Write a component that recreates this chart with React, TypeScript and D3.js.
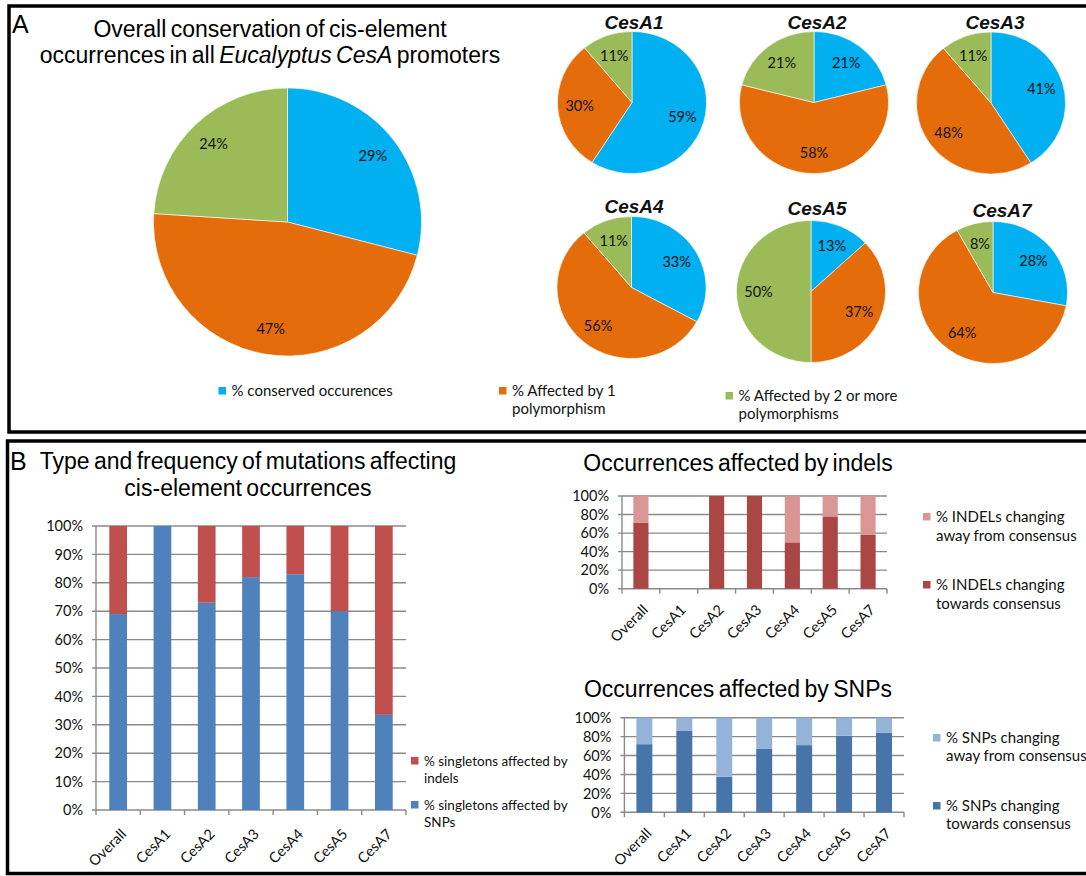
import React from "react";
import * as d3 from "d3";

const W = 1086;
const H = 876;

// ---- Panel A: conservation pies ----
const pieSeries = [
  "% conserved occurences",
  "% Affected by 1 polymorphism",
  "% Affected by 2 or more polymorphisms",
];
const pieColors = ["#00B0F0", "#E46C0A", "#9BBB59"];
const overallShares = [29, 47, 24];
const geneNames = ["CesA1", "CesA2", "CesA3", "CesA4", "CesA5", "CesA7"];
const conservedShares = [59, 21, 41, 33, 13, 28];
const onePolyShares = [30, 58, 48, 56, 37, 64];
const multiPolyShares = [11, 21, 11, 11, 50, 8];

// ---- Panel B: mutation type bars ----
const barCategories = ["Overall", "CesA1", "CesA2", "CesA3", "CesA4", "CesA5", "CesA7"];
const snpSingletons = [69, 100, 73, 82, 83, 70, 33.5];
const indelSingletons = [31, 0, 27, 18, 17, 30, 66.5];
const indelTowards = [71, 0, 100, 100, 50, 78, 58];
const indelAway = [29, 0, 0, 0, 50, 22, 42];
const snpTowards = [72, 86, 37.5, 67, 71, 81, 84];
const snpAway = [28, 14, 62.5, 33, 29, 19, 16];
const ticksBy10 = [0, 10, 20, 30, 40, 50, 60, 70, 80, 90, 100];
const ticksBy20 = [0, 20, 40, 60, 80, 100];

const TITLE_FONT = "'Liberation Sans', Arial, sans-serif";
const BODY_FONT = "Lato, 'Open Sans', sans-serif";
const GRID = "#8a8a8a";

type PieProps = {
  cx: number;
  cy: number;
  r: number;
  sx?: number;
  values: number[];
  labelR: number;
  fontSize: number;
};

function Pie({ cx, cy, r, sx = 1, values, labelR, fontSize }: PieProps) {
  const arcs = d3.pie<number>().sort(null).value((d) => d)(values);
  const arcGen = d3.arc<d3.PieArcDatum<number>>().innerRadius(0).outerRadius(r);
  const labelArc = d3.arc<d3.PieArcDatum<number>>().innerRadius(labelR).outerRadius(labelR);
  return (
    <g transform={`translate(${cx},${cy})`}>
      <g transform={`scale(${sx},1)`}>
        {arcs.map((a, i) => (
          <path
            key={i}
            d={arcGen(a) || ""}
            fill={pieColors[i]}
            stroke="#ffffff"
            strokeWidth={0.6}
            vectorEffect="non-scaling-stroke"
          />
        ))}
      </g>
      {arcs.map((a, i) => {
        if (a.data <= 0) return null;
        const [lx, ly] = labelArc.centroid(a);
        return (
          <text
            key={i}
            x={lx * sx}
            y={ly}
            dy="0.36em"
            textAnchor="middle"
            fontFamily={BODY_FONT}
            fontSize={fontSize}
            fill="#111"
          >
            {a.data}%
          </text>
        );
      })}
    </g>
  );
}

type BarsProps = {
  x0: number;
  x1: number;
  yTop: number;
  yBottom: number;
  ticks: number[];
  lower: number[];
  upper: number[];
  colors: [string, string];
  fontSize: number;
  labelDx: number;
  labelDy: number;
};

function StackedBars(p: BarsProps) {
  const x = d3
    .scaleBand<string>()
    .domain(barCategories)
    .range([p.x0, p.x1])
    .paddingInner(0.6)
    .paddingOuter(0.3);
  const y = d3.scaleLinear().domain([0, 100]).range([p.yBottom, p.yTop]);
  const rows = barCategories.map((c, i) => ({ cat: c, lower: p.lower[i], upper: p.upper[i] }));
  const series = d3.stack<{ cat: string; lower: number; upper: number }>().keys(["lower", "upper"])(rows as any);
  const step = (p.x1 - p.x0) / barCategories.length;
  const bounds = d3.range(barCategories.length + 1).map((k) => p.x0 + k * step);
  return (
    <g>
      {p.ticks.map((t) => (
        <g key={t}>
          <line x1={p.x0 - 4} x2={p.x1} y1={y(t)} y2={y(t)} stroke={GRID} strokeWidth={1.4} />
          <text
            x={p.x0 - 13}
            y={y(t)}
            dy="0.36em"
            textAnchor="end"
            fontFamily={BODY_FONT}
            fontSize={p.fontSize}
            fill="#111"
          >
            {t}%
          </text>
        </g>
      ))}
      <line x1={p.x0} x2={p.x0} y1={p.yTop} y2={p.yBottom} stroke={GRID} strokeWidth={1.4} />
      {bounds.map((bx, k) => (
        <line key={k} x1={bx} x2={bx} y1={p.yBottom} y2={p.yBottom + 5} stroke={GRID} strokeWidth={1.4} />
      ))}
      {series.map((s, si) =>
        s.map((d, i) => {
          const h = y(d[0]) - y(d[1]);
          if (h <= 0) return null;
          return (
            <rect
              key={`${si}-${i}`}
              x={x(barCategories[i])}
              y={y(d[1])}
              width={x.bandwidth()}
              height={h}
              fill={p.colors[si]}
            />
          );
        })
      )}
      {barCategories.map((c) => {
        const cx = (x(c) as number) + x.bandwidth() / 2;
        return (
          <text
            key={c}
            transform={`translate(${cx + p.labelDx},${p.yBottom + p.labelDy}) rotate(-45)`}
            textAnchor="end"
            fontFamily={BODY_FONT}
            fontSize={p.fontSize}
            fill="#111"
          >
            {c}
          </text>
        );
      })}
    </g>
  );
}

function LegendItem({
  x,
  y,
  color,
  lines,
  fontSize,
  lineGap,
}: {
  x: number;
  y: number;
  color: string;
  lines: string[];
  fontSize: number;
  lineGap: number;
}) {
  return (
    <g>
      <rect x={x} y={y - 9} width={7.5} height={7.5} fill={color} />
      {lines.map((ln, i) => (
        <text key={i} x={x + 13} y={y + i * lineGap} fontFamily={BODY_FONT} fontSize={fontSize} fill="#111">
          {ln}
        </text>
      ))}
    </g>
  );
}

export default function App() {
  const smallPies = [
    { cx: 632, cy: 102.5, tx: 634, ty: 29 },
    { cx: 814, cy: 102.5, tx: 817, ty: 29 },
    { cx: 991, cy: 103, tx: 995, ty: 29 },
    { cx: 631.5, cy: 287.5, tx: 634, ty: 213 },
    { cx: 811, cy: 291.5, tx: 817, ty: 215 },
    { cx: 993, cy: 292.5, tx: 1002, ty: 217 },
  ];
  return (
    <svg
      width={W}
      height={H}
      viewBox={`0 0 ${W} ${H}`}
      style={{ position: "absolute", left: 0, top: 0, background: "#fff" }}
    >
      <rect x={0} y={0} width={W} height={H} fill="#fff" />

      {/* panel frames */}
      <rect x={9} y={6} width={1100} height={426} fill="none" stroke="#000" strokeWidth={3.5} />
      <rect x={7.5} y={441} width={1100} height={432.5} fill="none" stroke="#000" strokeWidth={3.5} />

      {/* ---------- Panel A ---------- */}
      <text x={12} y={33} fontFamily={TITLE_FONT} fontSize={25} fill="#000">
        A
      </text>
      <text textAnchor="middle" fontFamily={TITLE_FONT} fontSize={23} fill="#000" wordSpacing={-2}>
        <tspan x={270} y={37}>
          Overall conservation of cis-element
        </tspan>
        <tspan x={270} y={63}>
          occurrences in all <tspan fontStyle="italic">Eucalyptus CesA</tspan> promoters
        </tspan>
      </text>
      <Pie cx={287.5} cy={222} r={134} values={overallShares} labelR={108} fontSize={14.5} />

      {geneNames.map((g, i) => {
        const s = smallPies[i];
        return (
          <g key={g}>
            <text
              x={s.tx}
              y={s.ty}
              textAnchor="middle"
              fontFamily={TITLE_FONT}
              fontStyle="italic"
              fontWeight="bold"
              fontSize={19}
              fill="#111"
            >
              {g}
            </text>
            <Pie
              cx={s.cx}
              cy={s.cy}
              r={71}
              sx={1.05}
              values={[conservedShares[i], onePolyShares[i], multiPolyShares[i]]}
              labelR={50}
              fontSize={14.5}
            />
          </g>
        );
      })}

      <LegendItem x={218.5} y={396} color={pieColors[0]} lines={[pieSeries[0]]} fontSize={15} lineGap={17} />
      <LegendItem
        x={499}
        y={396}
        color={pieColors[1]}
        lines={["% Affected by 1", "polymorphism"]}
        fontSize={15}
        lineGap={17.5}
      />
      <LegendItem
        x={725.5}
        y={401}
        color={pieColors[2]}
        lines={["% Affected by 2 or more", "polymorphisms"]}
        fontSize={15}
        lineGap={18}
      />

      {/* ---------- Panel B ---------- */}
      <text x={10} y={470} fontFamily={TITLE_FONT} fontSize={25} fill="#000">
        B
      </text>
      <text textAnchor="middle" fontFamily={TITLE_FONT} fontSize={23} fill="#000" wordSpacing={-2}>
        <tspan x={248} y={469}>
          Type and frequency of mutations affecting
        </tspan>
        <tspan x={248} y={496}>
          cis-element occurrences
        </tspan>
      </text>
      <StackedBars
        x0={96}
        x1={406}
        yTop={526}
        yBottom={810}
        ticks={ticksBy10}
        lower={snpSingletons}
        upper={indelSingletons}
        colors={["#4F81BD", "#C0504D"]}
        fontSize={14.5}
        labelDx={9}
        labelDy={25}
      />
      <LegendItem
        x={411}
        y={766}
        color="#C0504D"
        lines={["% singletons affected by", "indels"]}
        fontSize={13.5}
        lineGap={17}
      />
      <LegendItem
        x={411}
        y={810}
        color="#4F81BD"
        lines={["% singletons affected by", "SNPs"]}
        fontSize={13.5}
        lineGap={17}
      />

      <text x={738} y={471} textAnchor="middle" fontFamily={TITLE_FONT} fontSize={23} fill="#000" wordSpacing={-2}>
        Occurrences affected by indels
      </text>
      <StackedBars
        x0={622}
        x1={887}
        yTop={496}
        yBottom={588.7}
        ticks={ticksBy20}
        lower={indelTowards}
        upper={indelAway}
        colors={["#AA4644", "#D99694"]}
        fontSize={14.5}
        labelDx={8}
        labelDy={22}
      />
      <LegendItem
        x={923}
        y={522}
        color="#D99694"
        lines={["% INDELs changing", "away from consensus"]}
        fontSize={15}
        lineGap={18.5}
      />
      <LegendItem
        x={923}
        y={590}
        color="#AA4644"
        lines={["% INDELs changing", "towards consensus"]}
        fontSize={15}
        lineGap={18.5}
      />

      <text x={738} y={697} textAnchor="middle" fontFamily={TITLE_FONT} fontSize={23} fill="#000" wordSpacing={-2}>
        Occurrences affected by SNPs
      </text>
      <StackedBars
        x0={624.4}
        x1={904}
        yTop={717.7}
        yBottom={812.3}
        ticks={ticksBy20}
        lower={snpTowards}
        upper={snpAway}
        colors={["#4774A9", "#95B2D8"]}
        fontSize={14.5}
        labelDx={8}
        labelDy={22}
      />
      <LegendItem
        x={933}
        y={743}
        color="#95B2D8"
        lines={["% SNPs changing", "away from consensus"]}
        fontSize={15}
        lineGap={18}
      />
      <LegendItem
        x={933}
        y={811}
        color="#4774A9"
        lines={["% SNPs changing", "towards consensus"]}
        fontSize={15}
        lineGap={18}
      />
    </svg>
  );
}
